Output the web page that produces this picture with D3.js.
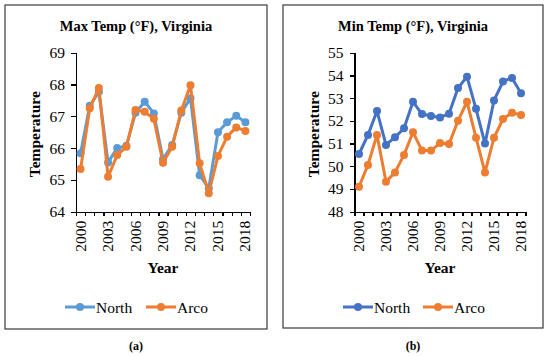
<!DOCTYPE html>
<html lang="en">
<head>
  <meta charset="UTF-8">
  <title>Max / Min Temp, Virginia</title>
  <style>
    body { margin: 0; background: #fff; }
    .frame { fill: none; stroke: #3a3a3a; stroke-width: 1.2px; }
    .axis path, .axis line { stroke: #000; stroke-width: 1.2px; shape-rendering: crispEdges; }
    .axis text { fill: #000; }
    .series { fill: none; stroke-width: 3px; stroke-linejoin: round; }
  </style>
</head>
<body>
  <svg width="550" height="356"></svg>
  <script src="https://d3js.org/d3.v7.min.js"></script>
  <script>
    const years = [2000, 2001, 2002, 2003, 2004, 2005, 2006, 2007, 2008, 2009,
                   2010, 2011, 2012, 2013, 2014, 2015, 2016, 2017, 2018];
    const yearLabels = [2000, 2003, 2006, 2009, 2012, 2015, 2018];

    // Max temperature (°F)
    const maxNorth = [65.84, 67.33, 67.77, 65.55, 66.00, 66.07, 67.11, 67.46, 67.09, 65.65,
                      66.10, 67.11, 67.57, 65.15, 64.74, 66.50, 66.81, 67.02, 66.81];
    const maxArco  = [65.34, 67.25, 67.89, 65.10, 65.78, 66.04, 67.20, 67.14, 66.92, 65.54,
                      66.04, 67.18, 67.98, 65.52, 64.58, 65.75, 66.36, 66.65, 66.54];
    const maxTicks = [64, 65, 66, 67, 68, 69];

    // Min temperature (°F)
    const minNorth = [50.54, 51.38, 52.43, 50.94, 51.28, 51.67, 52.84, 52.30, 52.21, 52.15,
                      52.31, 53.45, 53.94, 52.53, 51.00, 52.90, 53.73, 53.89, 53.21];
    const minArco  = [49.10, 50.06, 51.38, 49.32, 49.73, 50.50, 51.50, 50.69, 50.69, 51.02,
                      50.98, 52.00, 52.84, 51.26, 49.73, 51.26, 52.08, 52.36, 52.26];
    const minTicks = [48, 49, 50, 51, 52, 53, 54, 55];

    const svg = d3.select("svg");
    const serif = '"Liberation Serif", "Times New Roman", serif';

    function drawPanel(p) {
      const g = svg.append("g");

      g.append("rect").attr("class", "frame")
        .attr("x", p.box[0]).attr("y", p.box[1])
        .attr("width", p.box[2] - p.box[0]).attr("height", p.box[3] - p.box[1]);

      const x = d3.scaleLinear().domain([1999.5, 2018.5]).range([p.left, p.right]);
      const y = d3.scaleLinear().domain(d3.extent(p.ticks)).range([211.7, 52.7]);

      // title
      g.append("text")
        .attr("x", p.titleX).attr("y", 31)
        .attr("text-anchor", "middle")
        .style("font-size", "14.5px").style("font-weight", "bold")
        .text(p.title);

      // y axis
      const ya = g.append("g").attr("class", "axis")
        .attr("transform", `translate(${p.left},0)`)
        .call(d3.axisLeft(y).tickValues(p.ticks).tickFormat(d3.format("d"))
          .tickSize(5).tickSizeOuter(0).tickPadding(6));
      ya.selectAll("text").style("font-size", "15.5px");

      // x axis: tick marks between years, labels every third year
      const xa = g.append("g").attr("class", "axis")
        .attr("transform", `translate(0,${y.range()[0]})`)
        .call(d3.axisBottom(x).tickValues(years.map(v => v - 0.5).concat([2018.5]))
          .tickSize(4).tickSizeOuter(0).tickFormat(""));
      xa.selectAll("text").remove();

      g.selectAll("text.year").data(yearLabels).join("text")
        .attr("class", "year")
        .attr("transform", d => `translate(${x(d) + 5},${y.range()[0] + 9}) rotate(-90)`)
        .attr("text-anchor", "end")
        .style("font-size", "15.5px")
        .text(d => d);

      // axis titles
      g.append("text")
        .attr("transform", `translate(${p.left - 36},${(y.range()[0] + y.range()[1]) / 2 + 2}) rotate(-90)`)
        .attr("text-anchor", "middle")
        .style("font-size", "15.5px").style("font-weight", "bold")
        .text("Temperature");
      g.append("text")
        .attr("x", (p.left + p.right) / 2).attr("y", 273)
        .attr("text-anchor", "middle")
        .style("font-size", "15.5px").style("font-weight", "bold")
        .text("Year");

      // series
      const line = d3.line().x((d, i) => x(years[i])).y(d => y(d));
      p.series.forEach(s => {
        g.append("path").attr("class", "series")
          .attr("d", line(s.values)).attr("stroke", s.color);
        g.selectAll(null).data(s.values).join("circle")
          .attr("cx", (d, i) => x(years[i])).attr("cy", d => y(d))
          .attr("r", 4).attr("fill", s.color);
      });

      // legend
      p.series.forEach((s, k) => {
        const lx = p.legendX[k];
        g.append("line")
          .attr("x1", lx).attr("x2", lx + 30).attr("y1", 307).attr("y2", 307)
          .attr("stroke", s.color).attr("stroke-width", 3);
        g.append("circle").attr("cx", lx + 15).attr("cy", 307).attr("r", 4).attr("fill", s.color);
        g.append("text").attr("x", lx + 31).attr("y", 312.5)
          .style("font-size", "15.5px").text(s.name);
      });

      // caption
      g.append("text")
        .attr("x", p.titleX).attr("y", 350)
        .attr("text-anchor", "middle")
        .style("font-size", "12px").style("font-weight", "bold")
        .text(p.caption);
    }

    drawPanel({
      box: [5, 5, 267, 329], left: 76, right: 250, titleX: 136,
      title: "Max Temp (°F), Virginia", ticks: maxTicks, caption: "(a)",
      legendX: [65, 146],
      series: [
        { name: "North", values: maxNorth, color: "#5b9bd5" },
        { name: "Arco", values: maxArco, color: "#ed7d31" }
      ]
    });

    drawPanel({
      box: [283, 5, 543, 328], left: 354.5, right: 525.5, titleX: 413,
      title: "Min Temp (°F), Virginia", ticks: minTicks, caption: "(b)",
      legendX: [343, 423],
      series: [
        { name: "North", values: minNorth, color: "#4472c4" },
        { name: "Arco", values: minArco, color: "#ed7d31" }
      ]
    });

    // one font for every label
    svg.selectAll("text").style("font-family", serif);
  </script>
</body>
</html>
